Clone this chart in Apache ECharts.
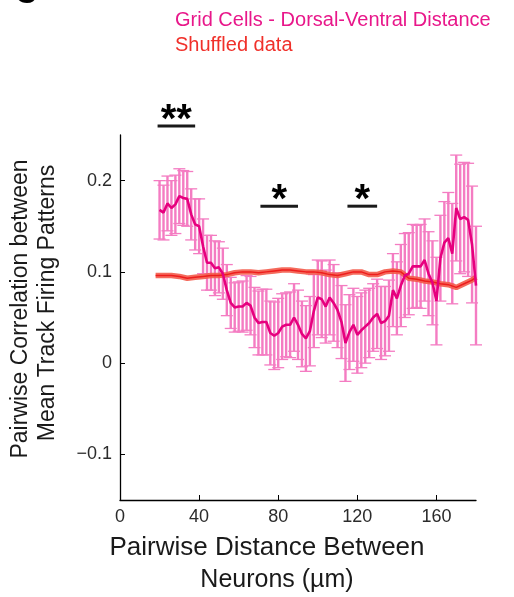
<!DOCTYPE html>
<html>
<head>
<meta charset="utf-8">
<script src="https://cdn.jsdelivr.net/npm/echarts@6/dist/echarts.min.js"></script>
<style>
html,body{margin:0;padding:0;background:#fff;}
#chart{width:514px;height:597px;}
</style>
</head>
<body>
<div id="chart"></div>
<script>
// Pairwise distance (µm) for grid-cell curve
const distance = [20,22,24,26,28,30,32,34,36,38,40,42,44,46,48,50,52,54,56,58,60,62,64,66,68,70,72,74,76,78,80,82,84,86,88,90,92,94,96,98,100,102,104,106,108,110,112,114,116,118,120,122,124,126,128,130,132,134,136,138,140,142,144,146,148,150,152,154,156,158,160,162,164,166,168,170,172,174,176,178,180];
// Mean pairwise correlation (grid cells, dorsal-ventral distance)
const gridMean = [0.168,0.165,0.175,0.170,0.174,0.183,0.181,0.180,0.163,0.152,0.150,0.128,0.110,0.110,0.104,0.105,0.098,0.080,0.066,0.061,0.062,0.062,0.066,0.063,0.050,0.044,0.045,0.045,0.033,0.030,0.033,0.040,0.042,0.042,0.050,0.042,0.032,0.027,0.035,0.057,0.072,0.070,0.062,0.072,0.066,0.058,0.045,0.022,0.034,0.042,0.031,0.036,0.040,0.044,0.050,0.054,0.044,0.046,0.052,0.080,0.071,0.085,0.096,0.098,0.106,0.106,0.106,0.113,0.098,0.088,0.068,0.115,0.132,0.137,0.120,0.170,0.158,0.160,0.157,0.130,0.085];
// Error (half-width of error bar)
const gridErr = [0.032,0.030,0.030,0.030,0.032,0.030,0.030,0.030,0.028,0.028,0.030,0.030,0.030,0.030,0.030,0.028,0.028,0.028,0.028,0.027,0.027,0.028,0.030,0.032,0.033,0.035,0.036,0.036,0.035,0.037,0.038,0.036,0.035,0.036,0.037,0.038,0.036,0.036,0.038,0.040,0.041,0.042,0.040,0.041,0.042,0.041,0.040,0.042,0.041,0.040,0.042,0.041,0.040,0.038,0.037,0.038,0.040,0.038,0.039,0.040,0.040,0.045,0.046,0.045,0.046,0.045,0.046,0.045,0.046,0.046,0.048,0.047,0.045,0.050,0.055,0.058,0.060,0.060,0.062,0.064,0.065];
// Shuffled data
const shufDistance = [18,22,26,30,34,38,42,46,50,54,58,62,66,70,74,78,82,86,90,94,98,102,106,110,114,118,122,126,130,134,138,142,146,150,154,158,162,166,170,174,178,180];
const shufMean = [0.096,0.096,0.096,0.095,0.093,0.094,0.095,0.096,0.096,0.097,0.099,0.100,0.100,0.099,0.100,0.101,0.102,0.102,0.101,0.100,0.100,0.099,0.097,0.096,0.098,0.100,0.100,0.097,0.097,0.100,0.101,0.100,0.093,0.092,0.090,0.089,0.087,0.086,0.083,0.087,0.091,0.094];
// Significance annotations
const sigStart = [19,71,115];
const sigEnd = [38,90,130];
const sigLevel = [0.26,0.172,0.172];
const sigLabel = ['**','*','*'];
// Axis ticks
const xTicks = [0,40,80,120,160];
const yTicks = [-0.1,0,0.1,0.2];

const FONT = 'Arial, "Liberation Sans", sans-serif';
const PINK = '#e6007e';
const ERRPINK = '#f47cc2';
const RED = '#ee1d1d';

const errData = distance.map((d,i)=>[d, gridMean[i], gridErr[i]]);
const meanData = distance.map((d,i)=>[d, gridMean[i]]);
const shufData = shufDistance.map((d,i)=>[d, shufMean[i]]);
const sigData = sigStart.map((s,i)=>[s, sigEnd[i], sigLevel[i]]);

const chart = echarts.init(document.getElementById('chart'), null, {renderer:'canvas'});
chart.setOption({
  animation:false,
  backgroundColor:'#fff',
  grid:{left:120, right:38, top:135, bottom:97},
  xAxis:{
    type:'value', min:0, max:180,
    axisLine:{show:true, onZero:false, lineStyle:{color:'#000', width:1.3}},
    axisTick:{show:true, inside:true, length:5, customValues:xTicks, lineStyle:{color:'#000', width:1}},
    axisLabel:{customValues:xTicks, color:'#2b2b2b', fontSize:18, fontFamily:FONT, margin:8},
    splitLine:{show:false}
  },
  yAxis:{
    type:'value', min:-0.15, max:0.25,
    axisLine:{show:true, onZero:false, lineStyle:{color:'#000', width:1.3}},
    axisTick:{show:true, inside:true, length:5, customValues:yTicks, lineStyle:{color:'#000', width:1}},
    axisLabel:{customValues:yTicks, color:'#2b2b2b', fontSize:18, fontFamily:FONT, margin:8,
      formatter:function(v){ if (Math.abs(v)<1e-9) return '0'; const s = Math.abs(v).toFixed(1); return v<0 ? '\u2212'+s : s; }},
    splitLine:{show:false}
  },
  series:[
    {
      type:'custom', name:'err', data:errData, z:2,
      renderItem:function(params, api){
        const x = api.value(0), m = api.value(1), e = api.value(2);
        const top = api.coord([x, m+e]);
        const bot = api.coord([x, m-e]);
        const cw = 6;
        return {type:'group', children:[
          {type:'line', shape:{x1:top[0], y1:top[1], x2:bot[0], y2:bot[1]}, style:{stroke:ERRPINK, lineWidth:2.4}},
          {type:'line', shape:{x1:top[0]-cw, y1:top[1], x2:top[0]+cw, y2:top[1]}, style:{stroke:ERRPINK, lineWidth:1.3}},
          {type:'line', shape:{x1:bot[0]-cw, y1:bot[1], x2:bot[0]+cw, y2:bot[1]}, style:{stroke:ERRPINK, lineWidth:1.3}}
        ]};
      }
    },
    {
      type:'line', name:'shufBand', data:shufData, symbol:'none', z:3,
      lineStyle:{color:'#f35a4a', width:5.5, opacity:0.9}
    },
    {
      type:'line', name:'shuf', data:shufData, symbol:'none', z:4,
      lineStyle:{color:RED, width:1.5}
    },
    {
      type:'line', name:'grid', data:meanData, symbol:'none', z:5,
      lineStyle:{color:PINK, width:2.6}
    },
    {
      type:'custom', name:'sig', data:sigData, clip:false, z:6,
      renderItem:function(params, api){
        const a = api.coord([api.value(0), api.value(2)]);
        const b = api.coord([api.value(1), api.value(2)]);
        const lbl = sigLabel[params.dataIndex];
        return {type:'group', children:[
          {type:'line', shape:{x1:a[0], y1:a[1], x2:b[0], y2:b[1]}, style:{stroke:'#1a1a1a', lineWidth:3}},
          {type:'text', x:(a[0]+b[0])/2, y:a[1]-5, style:{text:lbl, fill:'#000', font:'bold 40px '+FONT, textAlign:'center', textVerticalAlign:'middle'}}
        ]};
      }
    }
  ],
  graphic:[
    {type:'text', left:175, top:10, style:{text:'Grid Cells - Dorsal-Ventral Distance', fill:'#e8178a', font:'20px '+FONT}},
    {type:'text', left:175, top:35, style:{text:'Shuffled data', fill:'#f0302a', font:'20px '+FONT}},
    {type:'text', x:26, y:-22, style:{text:'C', fill:'#000', font:'bold 32px '+FONT, textAlign:'center'}},
    {type:'text', x:267, y:548, style:{text:'Pairwise Distance Between', fill:'#1a1a1a', font:'26px '+FONT, textAlign:'center', textVerticalAlign:'middle'}},
    {type:'text', x:277, y:580, style:{text:'Neurons (\u00b5m)', fill:'#1a1a1a', font:'25px '+FONT, textAlign:'center', textVerticalAlign:'middle'}},
    {type:'text', x:21, y:309, rotation:Math.PI/2, style:{text:'Pairwise Correlation between', fill:'#1a1a1a', font:'23px '+FONT, textAlign:'center', textVerticalAlign:'middle'}},
    {type:'text', x:48, y:303, rotation:Math.PI/2, style:{text:'Mean Track Firing Patterns', fill:'#1a1a1a', font:'23px '+FONT, textAlign:'center', textVerticalAlign:'middle'}}
  ]
});
</script>
</body>
</html>
